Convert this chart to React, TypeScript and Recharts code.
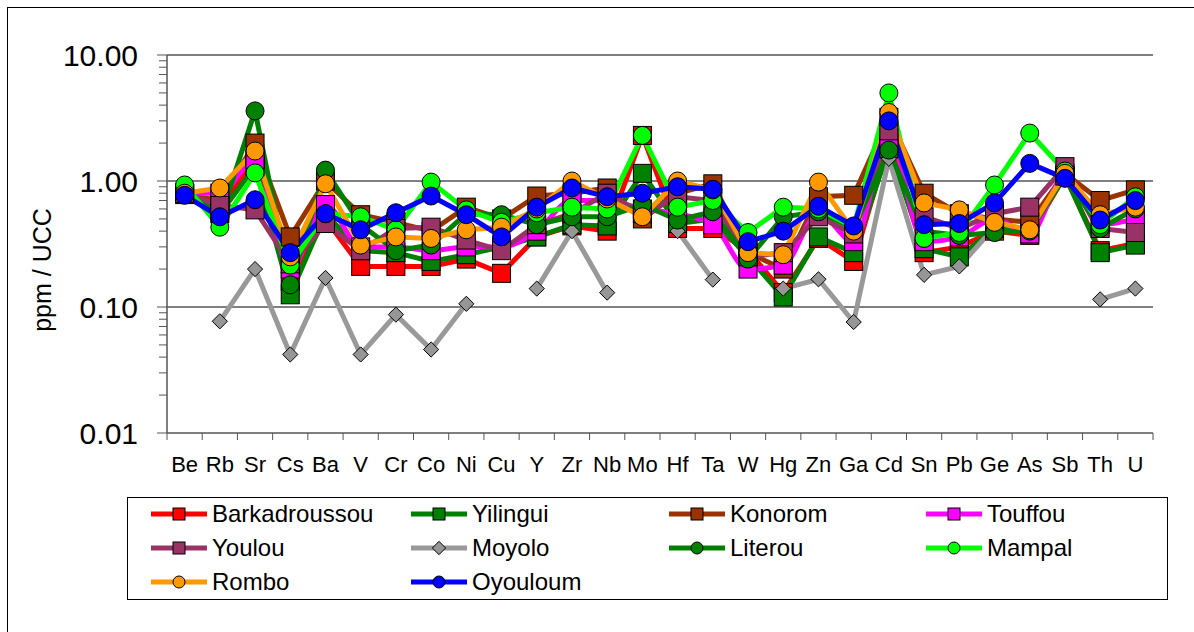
import React from 'react';
import { LineChart, Line, XAxis, YAxis, ReferenceLine } from 'recharts';

const categories = ['Be', 'Rb', 'Sr', 'Cs', 'Ba', 'V', 'Cr', 'Co', 'Ni', 'Cu', 'Y', 'Zr', 'Nb', 'Mo', 'Hf', 'Ta', 'W', 'Hg', 'Zn', 'Ga', 'Cd', 'Sn', 'Pb', 'Ge', 'As', 'Sb', 'Th', 'U'];

const barkadroussou = [0.8, 0.6, 1.5, 0.16, 0.5, 0.21, 0.21, 0.21, 0.24, 0.185, 0.36, 0.44, 0.4, 2.3, 0.42, 0.42, 0.28, 0.13, 0.35, 0.23, 2.0, 0.27, 0.3, 0.4, 0.37, 1.1, 0.28, 0.32];
const yilingui = [0.8, 0.55, 1.3, 0.125, 0.55, 0.28, 0.27, 0.23, 0.26, 0.3, 0.36, 0.45, 0.44, 1.15, 0.46, 0.5, 0.25, 0.12, 0.36, 0.27, 1.8, 0.29, 0.25, 0.42, 0.4, 1.1, 0.27, 0.31];
const konorom = [0.78, 0.7, 2.0, 0.36, 1.0, 0.54, 0.47, 0.4, 0.62, 0.5, 0.76, 0.8, 0.88, 0.5, 0.8, 0.95, 0.27, 0.2, 0.75, 0.77, 3.2, 0.8, 0.55, 0.5, 0.47, 1.15, 0.7, 0.85];
const touffou = [0.8, 0.8, 1.47, 0.2, 0.65, 0.3, 0.3, 0.28, 0.3, 0.3, 0.4, 0.7, 0.7, 0.6, 0.55, 0.45, 0.2, 0.215, 0.55, 0.33, 2.2, 0.33, 0.36, 0.5, 0.38, 1.1, 0.45, 0.5];
const youlou = [0.8, 0.64, 0.59, 0.22, 0.46, 0.28, 0.42, 0.43, 0.34, 0.28, 0.45, 0.55, 0.8, 0.55, 0.75, 0.7, 0.25, 0.27, 0.52, 0.38, 2.5, 0.52, 0.42, 0.55, 0.62, 1.3, 0.42, 0.39];
const moyolo = [null, 0.077, 0.2, 0.042, 0.17, 0.042, 0.087, 0.046, 0.106, null, 0.14, 0.4, 0.13, null, 0.4, 0.165, null, 0.14, 0.166, 0.076, 1.5, 0.18, 0.21, 0.43, null, null, 0.115, 0.14];
const literou = [0.85, 0.5, 3.6, 0.15, 1.22, 0.45, 0.28, 0.31, 0.55, 0.54, 0.45, 0.52, 0.52, 0.65, 0.49, 0.57, 0.24, 0.52, 0.57, 0.42, 1.76, 0.4, 0.37, 0.39, 0.4, 1.1, 0.42, 0.6];
const mampal = [0.93, 0.43, 1.16, 0.215, 0.55, 0.52, 0.41, 0.98, 0.59, 0.47, 0.56, 0.62, 0.6, 2.3, 0.62, 0.7, 0.39, 0.62, 0.6, 0.43, 5.0, 0.35, 0.39, 0.93, 2.4, 1.2, 0.45, 0.75];
const rombo = [0.8, 0.88, 1.73, 0.25, 0.95, 0.31, 0.36, 0.35, 0.41, 0.43, 0.6, 1.0, 0.72, 0.52, 1.0, 0.85, 0.27, 0.26, 0.98, 0.4, 3.5, 0.67, 0.59, 0.47, 0.41, 1.15, 0.54, 0.62];
const oyouloum = [0.77, 0.52, 0.71, 0.27, 0.55, 0.41, 0.56, 0.76, 0.54, 0.36, 0.62, 0.88, 0.75, 0.8, 0.9, 0.86, 0.33, 0.4, 0.63, 0.44, 3.0, 0.45, 0.46, 0.67, 1.38, 1.05, 0.49, 0.7];

const decadeTicks = [0.01, 0.1, 1, 10];
const minorSteps = [2, 3, 4, 5, 6, 7, 8, 9];

const series = [
  { key: 'barkadroussou', name: 'Barkadroussou', color: '#FF0000', marker: 'square', values: barkadroussou },
  { key: 'yilingui', name: 'Yilingui', color: '#008000', marker: 'square', values: yilingui },
  { key: 'konorom', name: 'Konorom', color: '#993300', marker: 'square', values: konorom },
  { key: 'touffou', name: 'Touffou', color: '#FF00FF', marker: 'square', values: touffou, smooth: true },
  { key: 'youlou', name: 'Youlou', color: '#993366', marker: 'square', values: youlou },
  { key: 'moyolo', name: 'Moyolo', color: '#999999', marker: 'diamond', values: moyolo },
  { key: 'literou', name: 'Literou', color: '#008000', marker: 'circle', values: literou },
  { key: 'mampal', name: 'Mampal', color: '#00FF00', marker: 'circle', values: mampal },
  { key: 'rombo', name: 'Rombo', color: '#FF9900', marker: 'circle', values: rombo },
  { key: 'oyouloum', name: 'Oyouloum', color: '#0000FF', marker: 'circle', values: oyouloum },
];

const data = categories.map((cat, i) => {
  const row: any = { cat };
  series.forEach((s) => { row[s.key] = s.values[i]; });
  return row;
});

const yTicks: number[] = [];
decadeTicks.forEach((d, i) => {
  yTicks.push(d);
  if (i < decadeTicks.length - 1) minorSteps.forEach((m) => yTicks.push(+(d * m).toPrecision(3)));
});

const FONT = '"Liberation Sans", Arial, sans-serif';
const W = 1194;
const H = 632;
const PLOT_LEFT = 167;
const PLOT_RIGHT = 1153;
const PLOT_TOP = 55;
const PLOT_BOTTOM = 433;
const BAND = (PLOT_RIGHT - PLOT_LEFT) / categories.length;

function Marker({ type, cx, cy, color, size }: any) {
  const h = size / 2;
  if (type === 'square') {
    return <rect x={cx - h} y={cy - h} width={size} height={size} fill={color} stroke="#000" strokeWidth={1} />;
  }
  if (type === 'circle') {
    return <circle cx={cx} cy={cy} r={h} fill={color} stroke="#000" strokeWidth={1} />;
  }
  const d = h * 0.95;
  return (
    <polygon
      points={`${cx},${cy - d} ${cx + d},${cy} ${cx},${cy + d} ${cx - d},${cy}`}
      fill="#969696"
      stroke="#000"
      strokeWidth={1}
    />
  );
}

const makeDot = (s: any) => (props: any) => {
  const { cx, cy, value, index } = props;
  if (cx == null || cy == null || value == null || isNaN(cy)) return <g key={`${s.key}-${index}`} />;
  return (
    <g key={`${s.key}-${index}`}>
      <Marker type={s.marker} cx={cx} cy={cy} color={s.color} size={s.marker === 'diamond' ? 16 : 18} />
    </g>
  );
};

function YTick(props: any) {
  const { y, payload } = props;
  const major = decadeTicks.includes(payload.value);
  return (
    <g>
      <line x1={PLOT_LEFT - (major ? 10 : 8)} x2={PLOT_LEFT} y1={y} y2={y} stroke="#555" strokeWidth={1} />
      {major && (
        <text x={138} y={y} textAnchor="end" dominantBaseline="central" fontSize={30} fontFamily={FONT} fill="#000">
          {payload.value.toFixed(2)}
        </text>
      )}
    </g>
  );
}

function XTick(props: any) {
  const { x, payload, index } = props;
  const last = index === categories.length - 1;
  return (
    <g>
      <line x1={x - BAND / 2} x2={x - BAND / 2} y1={PLOT_BOTTOM} y2={PLOT_BOTTOM + 7} stroke="#555" />
      {last && <line x1={x + BAND / 2} x2={x + BAND / 2} y1={PLOT_BOTTOM} y2={PLOT_BOTTOM + 7} stroke="#555" />}
      <text x={x} y={PLOT_BOTTOM + 31} textAnchor="middle" dominantBaseline="central" fontSize={22} fontFamily={FONT} fill="#000">
        {payload.value}
      </text>
    </g>
  );
}

const legendCols = [151, 411, 669, 926];
const legendRows = [514, 548, 582];

export default function App() {
  return (
    <div style={{ position: 'absolute', left: 0, top: 0, width: W, height: H, overflow: 'hidden', background: '#fff', fontFamily: FONT }}>
      <div style={{ position: 'absolute', left: 7, top: 7, width: W, height: H, borderLeft: '1px solid #000', borderTop: '1px solid #000' }} />
      <div style={{ position: 'absolute', left: 0, top: 0 }}>
        <LineChart
          width={W}
          height={H}
          data={data}
          margin={{ top: PLOT_TOP, right: W - PLOT_RIGHT, left: PLOT_LEFT - 100, bottom: H - PLOT_BOTTOM - 30 }}
        >
          <XAxis
            dataKey="cat"
            interval={0}
            tickLine={false}
            tick={<XTick />}
            padding={{ left: BAND / 2, right: BAND / 2 }}
            axisLine={{ stroke: '#7f7f7f', strokeWidth: 2 }}
            height={30}
          />
          <YAxis
            scale="log"
            domain={[0.01, 10]}
            allowDataOverflow
            ticks={yTicks}
            interval={0}
            tickLine={false}
            tick={<YTick />}
            axisLine={{ stroke: '#555', strokeWidth: 1.5 }}
            width={100}
          />
          <YAxis
            yAxisId="right"
            orientation="right"
            scale="log"
            domain={[0.01, 10]}
            width={0}
            tick={false}
            tickLine={false}
            axisLine={{ stroke: '#7f7f7f', strokeWidth: 2 }}
          />
          <ReferenceLine y={10} stroke="#7f7f7f" strokeWidth={2} />
          <ReferenceLine y={1} stroke="#000" strokeWidth={1} />
          <ReferenceLine y={0.1} stroke="#000" strokeWidth={1} />
          {series.map((s) => (
            <Line
              key={s.key}
              dataKey={s.key}
              name={s.name}
              type={s.smooth ? 'monotone' : 'linear'}
              stroke={s.color}
              strokeWidth={5}
              dot={makeDot(s)}
              activeDot={false}
              isAnimationActive={false}
            />
          ))}
        </LineChart>
      </div>
      <div
        style={{
          position: 'absolute',
          left: 127,
          top: 497,
          width: 1168 - 127,
          height: 600 - 497,
          border: '1px solid #000',
          boxSizing: 'border-box',
        }}
      />
      {series.map((s, i) => {
        const lx = legendCols[i % 4];
        const ly = legendRows[Math.floor(i / 4)];
        return (
          <div key={s.key} style={{ position: 'absolute', left: lx, top: ly - 14, height: 28, display: 'flex', alignItems: 'center' }}>
            <svg width={56} height={28} style={{ display: 'block' }}>
              <line x1={0} x2={56} y1={14} y2={14} stroke={s.color} strokeWidth={5} />
              <Marker type={s.marker} cx={28} cy={14} color={s.color} size={s.marker === 'diamond' ? 14 : 12} />
            </svg>
            <span style={{ marginLeft: 5, fontSize: 24, color: '#000', whiteSpace: 'nowrap' }}>{s.name}</span>
          </div>
        );
      })}
      <div
        style={{
          position: 'absolute',
          left: 42,
          top: 270,
          transform: 'translate(-50%, -50%) rotate(-90deg)',
          fontSize: 25,
          whiteSpace: 'nowrap',
          color: '#000',
        }}
      >
        ppm / UCC
      </div>
    </div>
  );
}
